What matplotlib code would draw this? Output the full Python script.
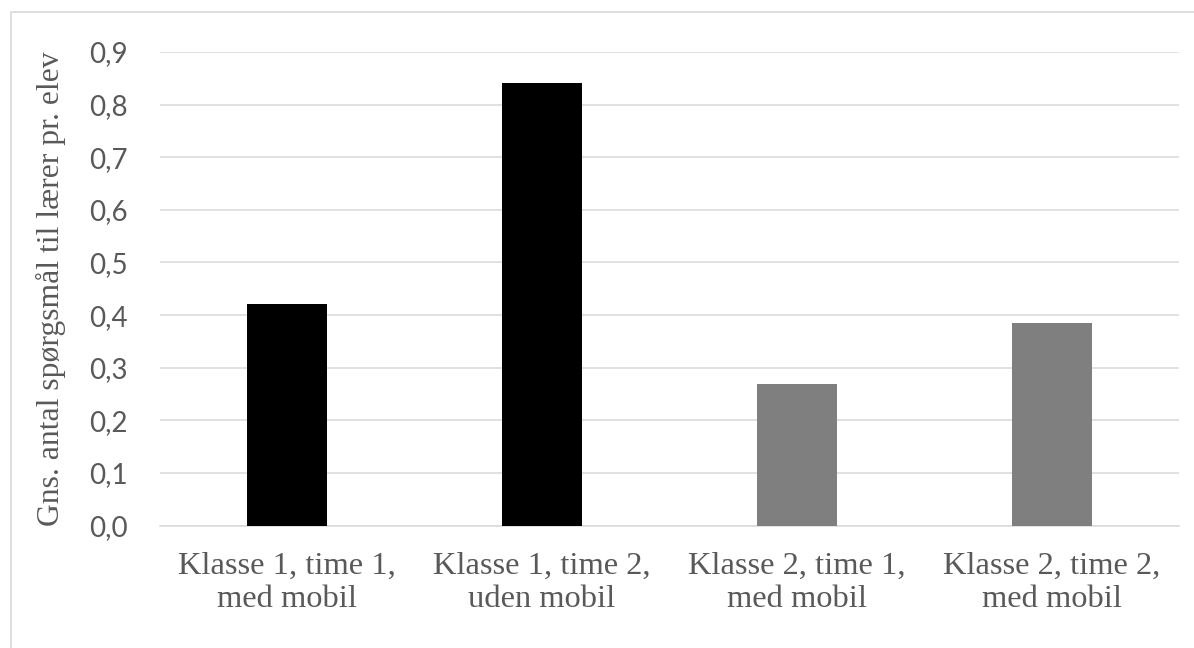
import matplotlib
matplotlib.use("Agg")
import matplotlib.pyplot as plt
from matplotlib.patches import Rectangle
from matplotlib.ticker import MultipleLocator, FuncFormatter

categories = [
    "Klasse 1, time 1,\nmed mobil",
    "Klasse 1, time 2,\nuden mobil",
    "Klasse 2, time 1,\nmed mobil",
    "Klasse 2, time 2,\nmed mobil",
]
values = [0.421, 0.842, 0.269, 0.385]
bar_colors = ["#000000", "#000000", "#7f7f7f", "#7f7f7f"]
y_label = "Gns. antal spørgsmål til lærer pr. elev"

text_gray = "#595959"
grid_gray = "#d9d9d9"

fig = plt.figure(figsize=(11.94, 6.48), dpi=100)
fig.patches.append(Rectangle((11 / 1194, -0.1), 1.2, (648 - 12) / 648 + 0.1,
                             transform=fig.transFigure, fill=False,
                             edgecolor=grid_gray, linewidth=1.2))

ax = fig.add_axes([160 / 1194, (648 - 525.5) / 648,
                   (1179 - 160) / 1194, (525.5 - 52) / 648])

x = range(len(categories))
ax.bar(x, values, width=0.314, color=bar_colors, zorder=3)

ax.set_xlim(-0.5, len(categories) - 0.5)
ax.set_ylim(0, 0.9)
ax.yaxis.set_major_locator(MultipleLocator(0.1))
ax.yaxis.set_major_formatter(FuncFormatter(lambda v, p: f"{v:.1f}".replace(".", ",")))
ax.grid(axis="y", color=grid_gray, linewidth=1.1, zorder=0)
ax.set_axisbelow(True)

for s in ["top", "right", "left"]:
    ax.spines[s].set_visible(False)
ax.spines["bottom"].set_color(grid_gray)
ax.spines["bottom"].set_linewidth(1.1)

ax.set_xticks(list(x))
ax.set_xticklabels(categories, fontfamily="Liberation Serif", fontsize=23.4,
                   color=text_gray, linespacing=1.2)
ax.tick_params(axis="x", length=0, pad=19)
ax.tick_params(axis="y", length=0, pad=23, labelsize=20, labelcolor=text_gray)
for lab in ax.get_yticklabels():
    lab.set_fontfamily("Lato")

ax.set_ylabel(y_label, fontfamily="Liberation Serif", fontsize=22.8,
              color=text_gray, labelpad=17)

fig.savefig("out.png", dpi=100)
